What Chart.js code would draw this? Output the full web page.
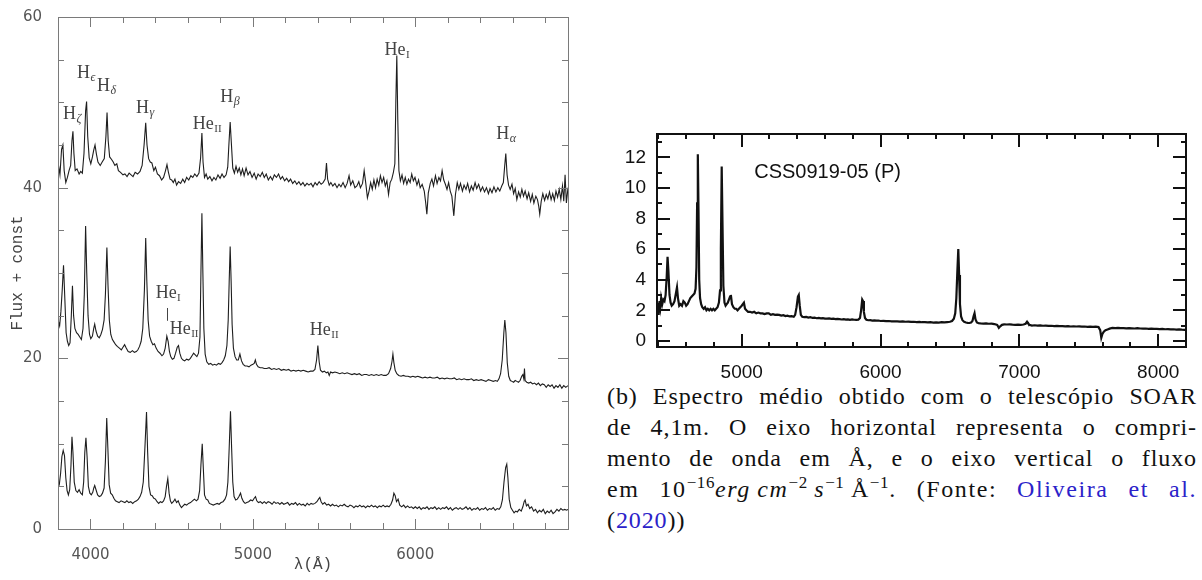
<!DOCTYPE html>
<html>
<head>
<meta charset="utf-8">
<script src="https://cdn.jsdelivr.net/npm/chart.js@4.4.0/dist/chart.umd.min.js"></script>
<style>
  body { margin: 0; background: #fff; width: 1202px; height: 580px; overflow: hidden; position: relative; }
  #leftChart { position: absolute; left: 0; top: 0; }
  #soarChart { position: absolute; left: 600px; top: 120px; }
  #caption { position: absolute; left: 607px; top: 381px; width: 590px;
    font-family: "Liberation Serif", serif; font-size: 24px; letter-spacing: 0.9px; color: #111; }
  #caption div { height: 31px; line-height: 31px; text-align: justify; text-align-last: justify; white-space: nowrap; }
  #caption div.math { letter-spacing: 1.6px; }
  #caption div.last { text-align-last: left; }
  #caption .ref { color: #2b22c9; }
  #caption sup { font-size: 17px; line-height: 0; vertical-align: 9px; letter-spacing: 0.6px; }
  .frame { position: absolute; box-sizing: border-box; border-style: solid; z-index: 3; pointer-events: none; }
  .tick { position: absolute; z-index: 3; pointer-events: none; }
</style>
</head>
<body>
<canvas id="leftChart" width="580" height="580"></canvas>
<canvas id="soarChart" width="602" height="260"></canvas>
<div id="caption">
  <div>(b) Espectro médio obtido com o telescópio SOAR</div>
  <div>de 4,1m. O eixo horizontal representa o compri-</div>
  <div>mento de onda em Å, e o eixo vertical o fluxo</div>
  <div class="math">em 10<sup>−16</sup><i>erg</i>&#8201;<i>cm</i><sup>−2</sup>&#8201;<i>s</i><sup>−1</sup>&#8201;Å<sup>−1</sup>. (Fonte: <span class="ref">Oliveira et al.</span></div>
  <div class="last">(<span class="ref">2020</span>))</div>
</div>
<script>
// ---- left panel: three spectra (flux + const) ----
var topWave = [3800,3812,3822,3830,3838,3848,3858,3868,3878,3886,3892,3898,3906,3917,3930,3940,3950,3960,3970,3976,3983,3992,4002,4012,4020,4028,4036,4046,4060,4072,4085,4095,4102,4109,4118,4130,4140,4150,4162,4172,4185,4200,4212,4225,4238,4250,4262,4275,4290,4305,4318,4330,4340,4348,4358,4368,4378,4390,4400,4412,4425,4438,4450,4462,4471,4480,4490,4500,4510,4520,4530,4542,4555,4568,4580,4592,4605,4618,4630,4642,4655,4668,4678,4686,4693,4702,4712,4722,4735,4748,4760,4772,4785,4798,4810,4822,4835,4845,4852,4860,4868,4876,4886,4896,4906,4916,4926,4936,4946,4958,4970,4982,4995,5008,5020,5032,5045,5058,5070,5082,5095,5108,5120,5132,5145,5158,5170,5182,5195,5208,5220,5232,5245,5258,5270,5283,5295,5308,5320,5333,5345,5358,5370,5383,5395,5408,5420,5432,5445,5453,5460,5470,5480,5492,5505,5518,5530,5542,5555,5568,5580,5592,5602,5615,5628,5640,5652,5662,5675,5685,5695,5705,5715,5725,5735,5745,5755,5765,5775,5785,5795,5805,5815,5825,5835,5845,5855,5865,5874,5880,5886,5892,5899,5908,5918,5928,5938,5948,5958,5968,5978,5988,5998,6010,6020,6030,6042,6055,6064,6071,6080,6092,6102,6112,6124,6134,6145,6155,6165,6175,6185,6195,6205,6215,6225,6237,6247,6258,6268,6278,6290,6300,6312,6322,6334,6345,6356,6368,6378,6390,6402,6414,6426,6438,6450,6460,6472,6484,6496,6508,6520,6532,6542,6550,6557,6565,6574,6584,6595,6605,6615,6625,6636,6646,6656,6666,6676,6688,6698,6710,6720,6730,6742,6752,6760,6766,6775,6785,6796,6806,6816,6826,6836,6846,6856,6866,6876,6886,6896,6906,6914,6922,6930,6940];
var topFlux = [43.0,41.5,44.5,45.0,42.0,40.6,41.2,42.0,42.6,45.5,46.6,44.0,42.0,42.2,41.6,41.9,41.7,44.0,49.0,50.1,46.0,43.5,42.8,43.6,44.4,45.0,44.0,43.0,42.6,43.0,43.4,46.0,48.8,45.5,43.6,43.3,43.0,42.6,42.8,42.0,41.8,41.5,41.6,41.3,41.7,41.5,41.3,41.8,41.6,41.9,42.6,45.0,47.6,45.0,43.4,43.0,42.9,42.0,42.4,41.6,41.4,40.9,41.2,42.0,42.7,41.8,41.0,40.9,40.6,41.0,40.3,40.7,40.5,41.0,40.6,41.2,40.9,41.4,41.2,41.6,41.3,41.7,43.5,46.4,43.0,41.2,41.6,41.0,41.3,40.8,41.2,40.9,41.5,41.1,41.6,41.2,41.5,42.4,45.0,47.7,45.0,42.3,41.7,42.5,41.8,42.3,41.5,42.2,41.4,42.3,41.5,41.9,41.2,41.7,41.0,41.6,41.3,41.8,41.2,41.6,40.9,41.3,40.9,41.5,41.2,41.6,41.0,41.3,40.8,41.1,40.7,41.0,40.5,40.8,40.4,40.7,40.3,40.6,40.2,40.5,40.3,40.5,40.1,40.6,40.3,40.7,40.4,40.6,41.0,42.9,41.0,40.3,40.6,40.2,40.5,40.0,40.4,40.1,40.6,40.0,40.5,41.4,40.3,40.8,40.0,40.2,40.7,40.0,40.5,42.0,40.5,38.8,39.6,40.6,39.8,40.9,40.0,41.0,40.3,41.4,40.6,41.2,40.2,40.8,39.2,40.6,41.0,41.8,42.8,50.0,55.5,48.0,42.0,40.8,41.5,40.5,41.2,40.4,41.0,40.6,41.6,40.8,41.2,40.3,40.9,40.0,40.4,39.6,38.2,36.9,39.4,40.5,41.0,40.2,41.4,40.5,41.2,40.8,42.0,40.9,40.4,39.8,40.6,39.6,39.0,36.7,39.2,40.6,39.8,40.5,39.6,40.3,39.8,40.5,39.5,40.2,39.7,40.6,39.9,40.4,39.6,40.1,39.5,40.0,39.3,39.9,39.4,40.1,39.5,40.0,39.6,40.2,40.6,42.5,44.0,41.5,40.3,39.8,40.4,39.3,39.9,38.6,39.5,38.9,39.8,39.0,39.6,38.7,39.4,38.4,39.2,38.2,39.0,38.6,37.8,36.9,38.4,39.3,38.5,39.2,38.7,39.5,38.6,39.3,38.5,39.6,38.9,39.8,38.6,40.2,38.4,41.5,38.2,40.0];

var midWave = [3800,3810,3818,3826,3834,3842,3850,3858,3866,3874,3882,3889,3896,3904,3914,3924,3934,3944,3954,3962,3970,3977,3985,3994,4002,4012,4020,4026,4034,4044,4054,4064,4074,4084,4092,4101,4108,4116,4125,4135,4145,4155,4165,4178,4190,4200,4210,4220,4232,4245,4258,4270,4282,4292,4302,4312,4322,4332,4340,4347,4355,4364,4374,4384,4394,4404,4416,4428,4440,4450,4460,4470,4478,4486,4494,4504,4514,4524,4534,4542,4550,4560,4570,4580,4592,4604,4615,4625,4635,4645,4655,4665,4674,4680,4686,4692,4698,4706,4716,4728,4740,4752,4764,4776,4788,4800,4810,4820,4830,4840,4848,4854,4860,4866,4872,4880,4890,4900,4910,4920,4930,4940,4952,4964,4976,4988,5000,5008,5015,5022,5032,5045,5058,5070,5085,5100,5115,5130,5145,5160,5175,5190,5205,5220,5235,5250,5265,5280,5295,5310,5325,5340,5355,5370,5382,5392,5400,5408,5416,5428,5440,5452,5462,5470,5478,5490,5505,5520,5535,5550,5565,5580,5595,5610,5625,5640,5655,5670,5685,5700,5715,5730,5745,5760,5775,5790,5805,5820,5835,5848,5856,5862,5868,5876,5886,5898,5912,5926,5940,5955,5970,5985,6000,6015,6030,6045,6060,6075,6090,6105,6120,6135,6150,6165,6180,6195,6210,6225,6240,6255,6270,6285,6300,6315,6330,6345,6360,6375,6390,6405,6420,6435,6450,6465,6480,6495,6505,6515,6525,6535,6545,6551,6558,6566,6575,6585,6595,6605,6615,6625,6635,6645,6655,6662,6668,6672,6676,6686,6698,6710,6722,6734,6746,6758,6770,6782,6794,6806,6818,6830,6842,6854,6866,6878,6890,6902,6914,6926,6940];
var midFlux = [24.5,23.8,25.5,28.0,30.9,27.0,23.0,22.0,21.5,21.8,25.0,28.5,25.0,23.5,23.0,22.8,22.5,22.2,23.5,27.5,35.5,30.0,25.0,22.8,22.3,22.6,23.5,24.0,23.2,22.6,22.4,22.8,23.4,24.5,27.5,33.0,28.5,24.5,22.8,22.2,21.9,21.6,21.4,21.2,21.0,21.3,21.6,21.2,20.8,20.7,20.9,20.7,20.8,21.0,21.4,22.0,23.5,28.0,34.1,29.0,24.5,22.6,22.0,21.6,21.7,21.2,20.8,20.6,20.3,20.5,21.2,22.6,22.0,20.8,20.2,19.9,20.0,20.6,21.3,21.5,20.6,20.0,19.8,19.7,19.9,19.8,20.0,20.3,20.6,20.4,20.2,20.6,22.5,30.0,37.0,30.0,23.5,20.5,19.6,19.3,19.4,19.2,19.3,19.2,19.4,19.3,19.5,19.8,20.3,21.5,24.5,29.0,33.1,29.0,24.0,21.2,20.2,19.8,19.8,20.5,19.7,19.3,19.1,19.1,19.0,19.2,19.3,19.4,19.8,19.3,19.0,18.9,18.9,18.8,18.8,18.9,18.7,18.8,18.7,18.8,18.6,18.7,18.6,18.7,18.5,18.6,18.5,18.6,18.5,18.6,18.5,18.4,18.5,18.5,18.7,19.8,21.5,19.6,18.6,18.4,18.5,18.3,18.4,18.0,18.4,18.3,18.4,18.3,18.2,18.3,18.2,18.3,18.2,18.1,18.2,18.1,18.2,18.0,18.1,18.1,18.0,18.1,18.0,18.1,18.0,18.1,18.0,18.0,18.2,18.8,19.6,20.5,19.5,18.6,18.2,18.0,17.9,18.0,17.9,17.9,17.8,17.9,17.8,17.9,17.8,17.7,17.8,17.7,17.8,17.7,17.7,17.8,17.6,17.7,17.6,17.7,17.6,17.6,17.7,17.5,17.6,17.5,17.6,17.5,17.5,17.6,17.4,17.5,17.4,17.5,17.4,17.3,17.5,17.4,17.3,17.4,17.3,17.6,18.2,19.8,23.0,24.5,23.0,19.5,17.9,17.4,17.3,17.2,17.4,17.3,17.2,17.4,17.9,18.1,17.6,18.8,17.4,17.2,17.1,17.2,17.0,17.1,16.9,17.1,16.8,17.0,16.9,16.6,16.9,16.7,16.9,16.5,16.8,16.6,16.9,16.5,16.8,16.6,16.8];

var lowWave = [3800,3808,3816,3824,3832,3840,3848,3856,3864,3872,3880,3886,3892,3900,3910,3920,3930,3940,3950,3958,3965,3972,3979,3987,3996,4005,4014,4020,4026,4034,4044,4054,4064,4074,4084,4092,4100,4107,4115,4124,4134,4144,4154,4165,4176,4188,4200,4212,4224,4236,4248,4260,4272,4284,4295,4305,4315,4325,4335,4345,4352,4360,4370,4380,4390,4400,4410,4420,4430,4440,4450,4460,4468,4476,4484,4492,4500,4510,4520,4530,4540,4550,4560,4570,4580,4592,4604,4616,4628,4640,4652,4662,4672,4680,4688,4695,4702,4712,4722,4732,4744,4756,4768,4780,4792,4804,4816,4828,4838,4846,4854,4862,4869,4876,4884,4894,4904,4914,4924,4932,4942,4952,4962,4974,4986,4998,5008,5016,5024,5034,5046,5058,5070,5082,5094,5106,5118,5130,5142,5154,5166,5178,5190,5202,5214,5226,5238,5250,5262,5274,5286,5298,5310,5322,5334,5346,5358,5370,5382,5394,5404,5412,5420,5430,5442,5454,5466,5478,5490,5502,5514,5526,5538,5550,5562,5574,5586,5598,5610,5622,5634,5646,5658,5670,5682,5694,5706,5718,5730,5742,5754,5766,5778,5790,5802,5814,5826,5838,5850,5860,5868,5876,5884,5894,5904,5916,5928,5940,5952,5964,5976,5988,6000,6012,6024,6036,6048,6060,6072,6084,6096,6108,6120,6132,6144,6156,6168,6180,6192,6204,6216,6228,6240,6252,6264,6276,6288,6300,6312,6324,6336,6348,6360,6372,6384,6396,6408,6420,6432,6444,6456,6468,6480,6492,6504,6516,6526,6536,6546,6556,6563,6570,6578,6588,6598,6608,6618,6628,6640,6652,6662,6670,6676,6684,6694,6704,6716,6728,6740,6752,6764,6776,6788,6800,6812,6824,6836,6848,6860,6872,6884,6896,6908,6920,6932,6940];
var lowFlux = [4.8,5.2,6.5,8.5,9.2,8.6,6.0,4.5,4.0,4.6,7.5,10.8,9.0,5.5,4.5,4.3,4.6,4.2,4.0,5.5,9.0,10.7,8.5,5.0,4.2,4.0,4.3,4.8,5.1,4.6,4.0,3.8,3.9,4.2,4.8,8.0,13.0,9.5,5.2,4.2,4.0,3.6,3.3,3.2,3.1,3.3,3.2,3.1,3.3,3.1,3.2,3.0,3.2,3.3,3.5,3.8,4.3,5.5,9.5,13.7,9.0,5.0,4.0,3.9,3.6,3.5,3.2,3.0,3.2,3.1,3.3,3.8,5.0,5.9,4.2,3.3,3.0,3.2,3.5,3.1,3.3,2.8,2.5,2.7,2.9,2.8,3.0,3.1,3.3,3.5,3.3,3.5,4.5,7.5,10.0,7.0,4.0,3.5,3.4,3.0,2.9,2.8,2.9,3.0,2.9,3.1,3.2,3.5,4.0,5.5,9.5,13.8,9.5,5.5,3.8,3.4,3.5,3.8,4.2,3.6,3.2,3.0,3.1,3.2,3.4,3.3,3.6,3.8,3.3,3.1,3.2,3.0,3.2,3.0,3.2,3.1,2.9,3.2,3.0,3.1,2.9,3.1,2.9,3.0,3.1,2.8,3.0,2.9,3.1,2.8,3.0,2.8,2.9,2.7,3.0,2.8,3.0,2.9,3.0,3.2,3.5,3.7,3.2,2.9,3.1,2.8,2.9,2.7,2.9,2.7,2.8,2.6,2.8,2.7,2.9,2.7,2.6,2.8,2.7,2.5,2.7,2.6,2.8,2.6,2.7,2.5,2.7,2.6,2.8,2.6,2.7,2.5,2.7,2.6,2.8,2.6,2.7,2.6,2.9,3.4,4.2,3.9,3.2,3.5,2.8,2.6,2.8,2.5,2.7,2.5,2.6,2.4,2.6,2.4,2.6,2.3,2.5,2.4,2.6,2.3,2.5,2.4,2.6,2.3,2.5,2.3,2.5,2.4,2.6,2.3,2.5,2.2,2.4,2.5,2.3,2.5,2.3,2.4,2.6,2.3,2.5,2.2,2.4,2.3,2.5,2.2,2.4,2.3,2.5,2.2,2.4,2.3,2.5,2.2,2.4,2.3,2.6,3.4,5.5,7.2,7.6,6.0,3.5,2.5,2.2,1.9,2.1,2.0,2.3,2.1,2.6,3.2,3.4,2.7,2.9,2.4,2.6,2.1,2.3,1.9,2.2,2.0,2.3,1.8,2.1,1.9,2.2,1.8,2.0,2.3,2.1,2.4,2.2,2.3,2.2,2.3];

var leftXLabels = [4000, 5000, 6000];
var leftYLabels = [0, 20, 40, 60];

// line identifications, [text, subscript, wavelength, flux]
var leftLineIds = [
  ['H', 'ζ', 3886, 48.7], ['H', 'ϵ', 3972, 53.6], ['H', 'δ', 4097, 52.0],
  ['H', 'γ', 4335, 49.4], ['He', 'II', 4717, 47.6], ['H', 'β', 4858, 50.7],
  ['He', 'I', 5886, 56.3], ['H', 'α', 6557, 46.4],
  ['He', 'I', 4477, 27.8], ['He', 'II', 4575, 23.6], ['He', 'II', 5437, 23.4]
];

// ---- right panel: SOAR mean spectrum ----
var soarWave = [4390,4396,4402,4408,4414,4420,4428,4436,4444,4452,4460,4466,4472,4480,4488,4496,4506,4516,4526,4534,4541,4550,4560,4570,4580,4590,4600,4610,4620,4630,4640,4650,4660,4668,4674,4679,4684,4689,4694,4700,4708,4716,4726,4736,4746,4756,4766,4776,4786,4796,4806,4816,4826,4836,4844,4850,4856,4862,4868,4876,4884,4892,4900,4908,4916,4922,4930,4940,4950,4960,4970,4980,4990,5000,5008,5016,5024,5034,5046,5060,5075,5090,5105,5120,5135,5150,5165,5180,5195,5210,5225,5240,5255,5270,5285,5300,5315,5330,5345,5360,5375,5385,5395,5405,5411,5418,5426,5436,5450,5465,5480,5495,5510,5525,5540,5555,5570,5585,5600,5615,5630,5645,5660,5675,5690,5705,5720,5735,5750,5765,5780,5795,5810,5825,5840,5852,5860,5868,5874,5880,5888,5898,5912,5926,5940,5955,5970,5985,6000,6020,6040,6060,6080,6100,6120,6140,6160,6180,6200,6220,6240,6260,6280,6300,6320,6340,6360,6380,6400,6420,6440,6460,6480,6500,6515,6528,6538,6546,6553,6560,6566,6572,6580,6590,6602,6615,6628,6640,6652,6662,6670,6677,6684,6694,6706,6720,6740,6760,6780,6800,6820,6840,6852,6862,6875,6890,6910,6930,6950,6970,6990,7010,7030,7045,7055,7062,7072,7090,7110,7130,7150,7170,7190,7210,7230,7250,7270,7290,7310,7330,7350,7370,7390,7410,7430,7450,7470,7490,7510,7530,7550,7570,7582,7590,7598,7608,7620,7635,7650,7670,7690,7710,7730,7750,7770,7790,7810,7830,7850,7870,7890,7910,7930,7950,7970,7990,8010,8030,8050,8070,8090,8110,8130,8150,8170,8190,8200];
var soarFlux = [2.0,2.5,1.7,2.6,2.2,2.8,2.4,2.7,2.6,3.0,4.2,5.5,4.6,3.0,2.5,2.3,2.4,2.6,3.1,3.5,2.8,2.3,2.4,2.3,2.6,2.5,2.3,2.4,2.6,2.8,2.9,3.0,3.1,3.4,4.8,9.0,12.2,8.5,4.0,2.8,2.4,2.2,2.1,2.2,2.0,2.1,2.0,2.1,2.0,2.1,2.0,2.1,2.2,2.5,3.3,6.0,11.4,7.5,3.6,2.5,2.3,2.4,2.5,2.7,2.9,3.0,2.4,2.2,2.1,2.1,2.0,2.1,2.2,2.3,2.4,2.5,2.1,2.0,1.9,1.9,1.85,1.9,1.8,1.85,1.8,1.8,1.75,1.8,1.8,1.7,1.75,1.7,1.72,1.7,1.65,1.68,1.62,1.65,1.6,1.62,1.58,1.7,2.2,2.9,3.0,2.3,1.7,1.58,1.55,1.57,1.52,1.55,1.5,1.52,1.48,1.5,1.47,1.49,1.46,1.45,1.47,1.44,1.45,1.42,1.44,1.42,1.4,1.42,1.39,1.41,1.38,1.4,1.38,1.37,1.39,1.5,2.0,2.7,2.6,1.9,1.5,1.38,1.35,1.36,1.33,1.34,1.32,1.33,1.3,1.31,1.29,1.3,1.28,1.27,1.28,1.26,1.27,1.25,1.26,1.24,1.25,1.23,1.24,1.22,1.23,1.21,1.22,1.2,1.21,1.2,1.22,1.21,1.23,1.25,1.3,1.45,1.8,2.8,4.5,6.0,4.3,2.4,1.6,1.35,1.25,1.2,1.18,1.17,1.2,1.3,1.6,1.8,1.4,1.2,1.15,1.14,1.13,1.14,1.12,1.13,1.1,1.05,0.85,0.95,1.05,1.08,1.07,1.08,1.06,1.05,1.06,1.05,1.07,1.12,1.25,1.15,1.05,1.0,1.02,1.0,1.01,0.99,1.0,0.98,0.99,0.97,0.98,0.96,0.97,0.95,0.96,0.94,0.95,0.94,0.95,0.93,0.94,0.92,0.93,0.92,0.93,0.9,0.7,0.2,0.45,0.6,0.7,0.75,0.8,0.85,0.84,0.85,0.83,0.84,0.82,0.83,0.82,0.81,0.83,0.81,0.8,0.81,0.79,0.8,0.78,0.79,0.77,0.78,0.76,0.77,0.75,0.76,0.74,0.75,0.73,0.72,0.72];

var soarXLabels = [5000, 6000, 7000, 8000];
var soarYLabels = [0, 2, 4, 6, 8, 10, 12];
var soarName = 'CSS0919-05 (P)';

var leftFrame = { color: '#7a7a7a', width: 1, major: 10, minor: 6, xMinor: 200, xMajor: 1000, yMinor: 5, yMajor: 20 };
var soarFrame = { color: '#111', width: 2, major: 13, minor: 5, xMinor: 200, xMajor: 1000, yMinor: 1, yMajor: 2 };

function pts(w, f) {
  return w.map(function (v, i) { return { x: v, y: f[i] }; });
}

function seg(ctx, x1, y1, x2, y2) {
  ctx.beginPath();
  ctx.moveTo(x1, y1);
  ctx.lineTo(x2, y2);
  ctx.stroke();
}

function addDiv(cls, left, top, width, height, css) {
  var d = document.createElement('div');
  d.className = cls;
  d.style.left = left + 'px';
  d.style.top = top + 'px';
  d.style.width = width + 'px';
  d.style.height = height + 'px';
  for (var k in css) d.style[k] = css[k];
  document.body.appendChild(d);
}

// box and inward ticks laid over the plot, placed with the chart's own scales
function overlayFrame(chart, o) {
  var canvas = chart.canvas, ox = canvas.offsetLeft, oy = canvas.offsetTop;
  var xs = chart.scales.x, ys = chart.scales.y;
  var L = Math.round(xs.getPixelForValue(xs.min)), R = Math.round(xs.getPixelForValue(xs.max));
  var T = Math.round(ys.getPixelForValue(ys.max)), B = Math.round(ys.getPixelForValue(ys.min));
  var w = o.width, hw = Math.floor(w / 2);
  addDiv('frame', ox + L - hw, oy + T - hw, R - L + w, B - T + w,
    { borderWidth: w + 'px', borderColor: o.color });
  var k, v, p, len;
  for (k = Math.ceil(xs.min / o.xMinor); k * o.xMinor <= xs.max; k++) {
    v = k * o.xMinor;
    p = Math.round(xs.getPixelForValue(v));
    len = (v % o.xMajor === 0) ? o.major : o.minor;
    addDiv('tick', ox + p - hw, oy + B - len, w, len, { background: o.color });
    addDiv('tick', ox + p - hw, oy + T, w, len, { background: o.color });
  }
  for (k = Math.ceil(ys.min / o.yMinor); k * o.yMinor <= ys.max; k++) {
    v = k * o.yMinor;
    p = Math.round(ys.getPixelForValue(v));
    len = (v % o.yMajor === 0) ? o.major : o.minor;
    addDiv('tick', ox + L, oy + p - hw, len, w, { background: o.color });
    addDiv('tick', ox + R - len, oy + p - hw, len, w, { background: o.color });
  }
}

var lineIdPlugin = {
  id: 'lineIds',
  afterDatasetsDraw: function (chart) {
    var ctx = chart.ctx, x = chart.scales.x, y = chart.scales.y;
    ctx.save();
    ctx.fillStyle = '#444';
    ctx.textBaseline = 'alphabetic';
    leftLineIds.forEach(function (d) {
      var px = x.getPixelForValue(d[2]), py = y.getPixelForValue(d[3]);
      var subFont = (d[1] === 'I' || d[1] === 'II' ? '11px' : 'italic 12px') + ' "Liberation Serif"';
      ctx.font = '18px "Liberation Serif"';
      var w1 = ctx.measureText(d[0]).width;
      ctx.font = subFont;
      var w2 = ctx.measureText(d[1]).width;
      var left = px - (w1 + w2) / 2;
      ctx.font = '18px "Liberation Serif"';
      ctx.fillText(d[0], left, py + 6);
      ctx.font = subFont;
      ctx.fillText(d[1], left + w1 + 0.5, py + 9);
    });
    // small marker under middle He I
    var mx = Math.round(x.getPixelForValue(4471)) + 0.5;
    ctx.strokeStyle = '#444';
    ctx.lineWidth = 1;
    seg(ctx, mx, y.getPixelForValue(25.9), mx, y.getPixelForValue(24.4));
    ctx.restore();
  }
};

var soarNamePlugin = {
  id: 'soarName',
  afterDatasetsDraw: function (chart) {
    var ctx = chart.ctx;
    ctx.save();
    ctx.fillStyle = '#111';
    ctx.font = '20px "Liberation Sans"';
    ctx.textBaseline = 'middle';
    ctx.fillText(soarName, chart.scales.x.getPixelForValue(5090), chart.scales.y.getPixelForValue(11.0));
    ctx.restore();
  }
};

function setTicks(list) {
  return function (scale) {
    scale.ticks = list.map(function (v) { return { value: v }; });
  };
}

function plain(v) { return String(v); }

var spectrumStyle = { borderColor: '#1e1e1e', borderWidth: 1.1, pointRadius: 0, tension: 0 };

var leftChart = new Chart(document.getElementById('leftChart'), {
  type: 'line',
  data: {
    datasets: [
      Object.assign({ data: pts(topWave, topFlux) }, spectrumStyle),
      Object.assign({ data: pts(midWave, midFlux) }, spectrumStyle),
      Object.assign({ data: pts(lowWave, lowFlux) }, spectrumStyle)
    ]
  },
  options: {
    responsive: false,
    animation: false,
    layout: { padding: { top: 10, right: 12, left: 0, bottom: 0 } },
    plugins: { legend: { display: false }, tooltip: { enabled: false } },
    scales: {
      x: {
        type: 'linear', min: 3800, max: 6940,
        afterBuildTicks: setTicks(leftXLabels),
        afterFit: function (s) { s.height = 51; },
        grid: { display: false }, border: { display: false },
        ticks: { padding: 9, color: '#555', font: { family: 'DejaVu Sans', size: 15 }, maxRotation: 0, callback: plain },
        title: { display: true, text: 'λ(Å)', color: '#444', padding: { bottom: 6 },
          font: { family: 'Liberation Mono', size: 16 } }
      },
      y: {
        min: 0, max: 60,
        afterBuildTicks: setTicks(leftYLabels),
        afterFit: function (s) { s.width = 58; },
        grid: { display: false }, border: { display: false },
        ticks: { padding: 8, color: '#555', font: { family: 'DejaVu Sans', size: 15 }, callback: plain },
        title: { display: true, text: 'Flux + const', color: '#444', padding: { top: 8 },
          font: { family: 'Liberation Mono', size: 16 } }
      }
    }
  },
  plugins: [lineIdPlugin]
});

var soarChart = new Chart(document.getElementById('soarChart'), {
  type: 'line',
  data: {
    datasets: [{ data: pts(soarWave, soarFlux), borderColor: '#111', borderWidth: 2.2,
      pointRadius: 0, tension: 0 }]
  },
  options: {
    responsive: false,
    animation: false,
    layout: { padding: { top: 14, right: 16, left: 0, bottom: 0 } },
    plugins: { legend: { display: false }, tooltip: { enabled: false } },
    scales: {
      x: {
        type: 'linear', min: 4390, max: 8200,
        afterBuildTicks: setTicks(soarXLabels),
        afterFit: function (s) { s.height = 33; },
        grid: { display: false }, border: { display: false },
        ticks: { padding: 6, color: '#111', font: { family: 'Liberation Sans', size: 19 }, maxRotation: 0, callback: plain }
      },
      y: {
        min: -0.4, max: 13.5,
        afterBuildTicks: setTicks(soarYLabels),
        afterFit: function (s) { s.width = 57; },
        grid: { display: false }, border: { display: false },
        ticks: { padding: 3, color: '#111', font: { family: 'Liberation Sans', size: 19 }, callback: plain }
      }
    }
  },
  plugins: [soarNamePlugin]
});

overlayFrame(leftChart, leftFrame);
overlayFrame(soarChart, soarFrame);
</script>
</body>
</html>
